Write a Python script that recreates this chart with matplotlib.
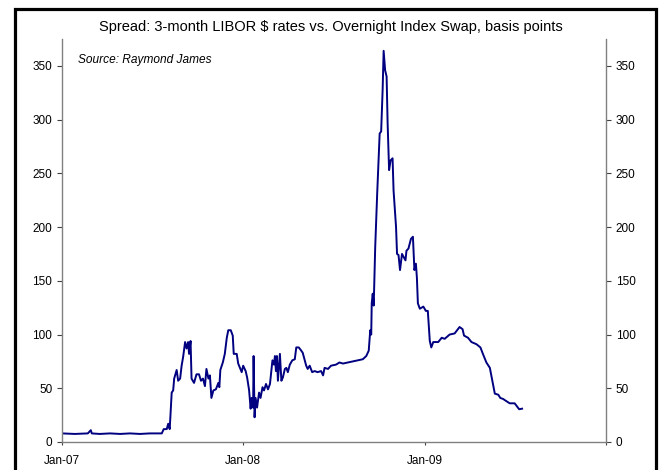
import matplotlib
matplotlib.use("Agg")
import numpy as np
import matplotlib.pyplot as plt
from matplotlib.patches import Rectangle

plt.rcParams['font.family'] = ['Liberation Sans', 'DejaVu Sans']

# spread, basis points
dates = [
    "2007-01-01", "2007-01-27", "2007-02-22", "2007-02-28", "2007-03-02", "2007-03-18",
    "2007-04-08", "2007-04-28", "2007-05-18", "2007-06-07", "2007-06-27", "2007-07-13",
    "2007-07-21", "2007-07-25", "2007-07-31", "2007-08-03", "2007-08-06", "2007-08-10",
    "2007-08-13", "2007-08-15", "2007-08-20", "2007-08-23", "2007-08-27", "2007-08-30",
    "2007-09-02", "2007-09-06", "2007-09-09", "2007-09-12", "2007-09-14", "2007-09-17",
    "2007-09-19", "2007-09-24", "2007-09-29", "2007-10-04", "2007-10-08", "2007-10-12",
    "2007-10-16", "2007-10-19", "2007-10-23", "2007-10-26", "2007-10-29", "2007-11-02",
    "2007-11-07", "2007-11-12", "2007-11-14", "2007-11-16", "2007-11-21", "2007-11-25",
    "2007-11-29", "2007-12-02", "2007-12-07", "2007-12-11", "2007-12-13", "2007-12-19",
    "2007-12-22", "2007-12-29",
    "2008-01-01", "2008-01-06", "2008-01-09", "2008-01-13", "2008-01-16", "2008-01-18",
    "2008-01-21", "2008-01-22", "2008-01-24", "2008-01-26", "2008-01-29", "2008-02-02",
    "2008-02-05", "2008-02-09", "2008-02-12", "2008-02-16", "2008-02-20", "2008-02-24",
    "2008-02-29", "2008-03-03", "2008-03-05", "2008-03-07", "2008-03-09", "2008-03-11",
    "2008-03-15", "2008-03-18", "2008-03-21", "2008-03-25", "2008-03-28", "2008-03-31",
    "2008-04-04", "2008-04-09", "2008-04-14", "2008-04-17", "2008-04-22", "2008-04-27",
    "2008-04-30", "2008-05-04", "2008-05-07", "2008-05-10", "2008-05-14", "2008-05-19",
    "2008-05-24", "2008-05-30", "2008-06-06", "2008-06-10", "2008-06-13", "2008-06-20",
    "2008-06-26", "2008-07-06", "2008-07-13", "2008-07-20", "2008-07-30", "2008-08-09",
    "2008-08-19", "2008-08-29", "2008-09-05", "2008-09-10", "2008-09-13", "2008-09-15",
    "2008-09-16", "2008-09-18", "2008-09-20", "2008-09-23", "2008-09-27", "2008-10-02",
    "2008-10-05", "2008-10-08", "2008-10-10", "2008-10-13", "2008-10-16", "2008-10-18",
    "2008-10-21", "2008-10-24", "2008-10-28", "2008-10-30", "2008-11-04", "2008-11-06",
    "2008-11-09", "2008-11-12", "2008-11-16", "2008-11-23", "2008-11-25", "2008-11-29",
    "2008-12-04", "2008-12-08", "2008-12-11", "2008-12-14", "2008-12-16", "2008-12-18",
    "2008-12-22", "2008-12-29",
    "2009-01-03", "2009-01-07", "2009-01-11", "2009-01-14", "2009-01-18", "2009-01-28",
    "2009-02-04", "2009-02-10", "2009-02-20", "2009-03-02", "2009-03-12", "2009-03-18",
    "2009-03-21", "2009-03-29", "2009-04-05", "2009-04-15", "2009-04-23", "2009-04-28",
    "2009-05-05", "2009-05-12", "2009-05-17", "2009-05-22", "2009-05-29", "2009-06-02",
    "2009-06-08", "2009-06-11", "2009-06-21", "2009-07-01", "2009-07-10", "2009-07-16",
]
spread = [
    8, 7.5, 8, 11, 8, 7.5,
    8, 7.5, 8, 7.5, 8, 8,
    8, 12, 12, 17, 12, 46,
    48, 59, 67, 57, 59, 71,
    79, 93, 87, 93, 82, 94,
    59, 55, 63, 63, 57, 59,
    52, 68, 59, 62, 41, 48,
    49, 55, 51, 67, 74, 82,
    97, 104, 104, 99, 82, 82,
    73, 65,
    71, 66, 60, 48, 31, 41,
    32, 80, 23, 41, 32, 46,
    41, 51, 48, 54, 49, 54,
    76, 72, 80, 66, 80, 57,
    82, 57, 60, 68, 69, 65,
    72, 76, 77, 88, 88, 85,
    83, 76, 71, 68, 71, 65,
    66, 65, 66, 62, 69, 68,
    71, 72, 74, 73, 74, 75,
    76, 77, 80, 85, 104, 100,
    129, 138, 127, 181, 231, 287,
    289, 328, 364, 346, 340, 297,
    253, 262, 264, 234, 200, 175,
    174, 160, 175, 169, 178, 180,
    189, 191, 160, 166, 153, 129,
    124, 126,
    122, 122, 94, 88, 93, 93,
    97, 96, 100, 101, 107, 105,
    99, 97, 93, 91, 88, 82,
    74, 69, 57, 45, 44, 41,
    40, 39, 36, 36, 30.5, 31,
]
x_ticks = ["2007-01-01", "2008-01-01", "2009-01-01", "2010-01-01"]
x_labels = ["Jan-07", "Jan-08", "Jan-09", ""]
y_ticks = [0, 50, 100, 150, 200, 250, 300, 350]

d = np.array(dates, dtype="datetime64[D]")

fig = plt.figure(figsize=(6.62, 4.70), dpi=100)
ax = fig.add_axes([62/662, 1 - 442/470, (606-62)/662, (442-39)/470])

ax.plot(d, spread, color="#000080", lw=1.4)

ax.set_ylim(0, 375)
ax.set_xlim(np.datetime64("2007-01-01"), np.datetime64("2010-01-01"))
ax.set_yticks(y_ticks)
ax.set_xticks(np.array(x_ticks, dtype="datetime64[D]"))
ax.set_xticklabels(x_labels)

for s in ["left", "right", "bottom"]:
    ax.spines[s].set_color("#808080")
    ax.spines[s].set_linewidth(1.0)
ax.spines["top"].set_visible(False)

ax.tick_params(axis="y", direction="out", length=3.5, width=0.8, color="#404040",
               left=True, right=True, labelleft=True, labelright=True,
               labelsize=8.5, pad=3.5)
ax.tick_params(axis="x", direction="out", length=2.5, width=0.8, color="#404040",
               labelsize=8.5, pad=6.5)

fig.text(0.5, 1 - 27/470, "Spread: 3-month LIBOR $ rates vs. Overnight Index Swap, basis points",
         ha="center", va="center", fontsize=10.5)
ax.text(78/662, 1 - 60/470, "Source: Raymond James", transform=fig.transFigure,
        ha="left", va="center", fontsize=8.6, style="italic")

# outer frame (bottom edge runs off the picture)
fig.patches.append(Rectangle((14.5/662, -0.05), (656 - 14.5)/662, 1.05 - 8.5/470,
                             transform=fig.transFigure, fill=False,
                             edgecolor="black", lw=2.3, zorder=10))

fig.savefig("out.png", dpi=100)
